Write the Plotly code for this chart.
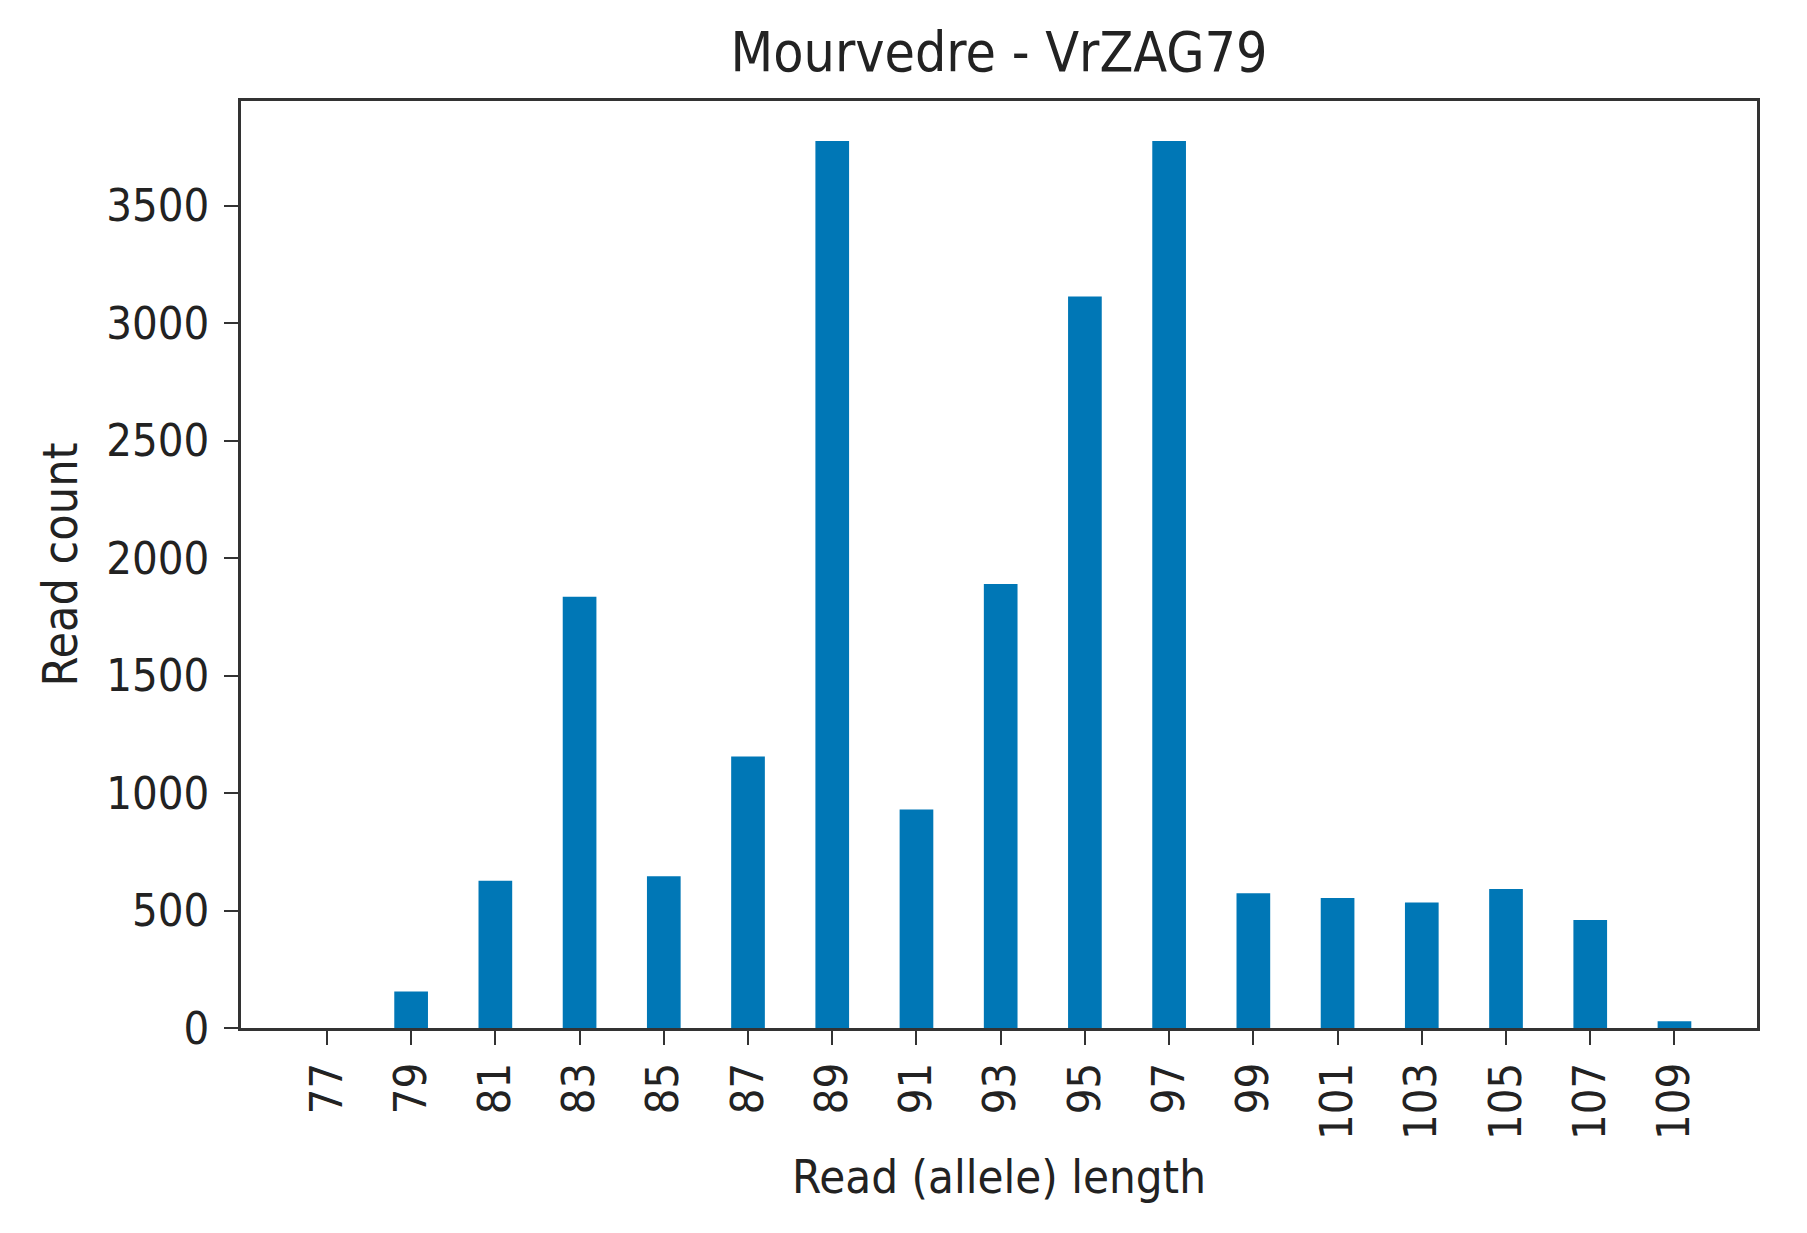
import plotly.graph_objects as go

# read lengths (alleles) and read counts for Mourvedre - VrZAG79
lengths = ["77", "79", "81", "83", "85", "87", "89", "91", "93",
           "95", "97", "99", "101", "103", "105", "107", "109"]
counts = [0, 155, 627, 1835, 646, 1155, 3775, 930, 1889,
          3113, 3775, 573, 553, 534, 592, 460, 29]

y_ticks = [0, 500, 1000, 1500, 2000, 2500, 3000, 3500]

font_fam = "DejaVu Sans Condensed, DejaVu Sans"
ink = "#222222"

fig = go.Figure()
fig.add_trace(
    go.Bar(
        x=lengths,
        y=counts,
        width=0.4,
        marker=dict(color="#0077b6", line=dict(width=0)),
    )
)

axis_style = dict(
    showline=True,
    linecolor="#333333",
    linewidth=2.5,
    mirror=True,
    ticks="outside",
    ticklen=14,
    tickwidth=2,
    tickcolor="#333333",
    showgrid=False,
    zeroline=False,
    tickfont=dict(family=font_fam, size=45, color=ink),
)

fig.update_layout(
    width=1807,
    height=1233,
    paper_bgcolor="white",
    plot_bgcolor="white",
    showlegend=False,
    margin=dict(l=233, r=58, t=93, b=213),
    title=dict(
        text="Mourvedre - VrZAG79",
        xref="paper",
        x=0.5,
        xanchor="center",
        y=1 - 44 / 1233,
        yanchor="middle",
        font=dict(family=font_fam, size=55, color=ink),
    ),
)
fig.update_xaxes(
    axis_style,
    type="category",
    range=[-1.02, 16.98],
    tickangle=-90,
    title=dict(text="Read (allele) length", standoff=22,
               font=dict(family=font_fam, size=47, color=ink)),
)
fig.update_yaxes(
    axis_style,
    range=[0, 3945],
    tickvals=y_ticks,
    ticklabelstandoff=6,
    title=dict(text="Read count", standoff=14,
               font=dict(family=font_fam, size=48, color=ink)),
)

fig.write_html("out.html")
